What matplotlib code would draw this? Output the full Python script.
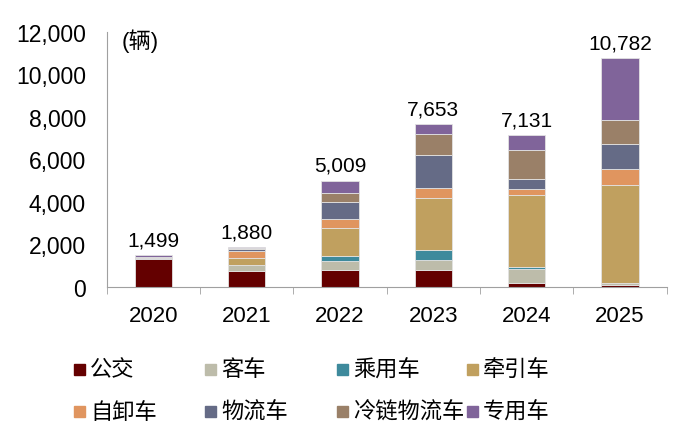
import matplotlib
matplotlib.use("Agg")
import matplotlib.pyplot as plt
import matplotlib.patches as patches
import numpy as np

plt.rcParams['font.family'] = ['Liberation Sans', 'Noto Sans CJK SC']

years = ['2020', '2021', '2022', '2023', '2024', '2025']
series_names = ['公交', '客车', '乘用车', '牵引车', '自卸车', '物流车', '冷链物流车', '专用车']
colors = ['#640000', '#BDBCAA', '#3E8A9C', '#C0A05F', '#E0955F', '#656B86', '#9A8068', '#80649A']

bus = [1300, 770, 790, 818, 173, 110]
coach = [20, 252, 445, 456, 690, 63]
car = [0, 0, 205, 456, 63, 0]
tractor = [0, 346, 1330, 2480, 3385, 4640]
dump = [0, 346, 445, 440, 283, 755]
logistics = [30, 63, 775, 1540, 500, 1175]
cold_chain = [40, 53, 430, 1005, 1331, 1095]
special = [109, 50, 589, 458, 706, 2944]

series = [bus, coach, car, tractor, dump, logistics, cold_chain, special]

fig = plt.figure(figsize=(6.98, 4.39), dpi=100)
ax = fig.add_axes([0.1529, 0.344, 0.8021, 0.581])

x = np.arange(len(years))
bottom = np.zeros(len(years))
for vals, col in zip(series, colors):
    ax.bar(x, vals, 0.4, bottom=bottom, color=col, edgecolor='#e2e2e2', linewidth=0.6)
    bottom += np.array(vals)

for xi, tot in zip(x, bottom):
    ax.annotate(f"{int(tot):,}", (xi, tot), xytext=(0, 4), textcoords='offset points',
                ha='center', va='bottom', fontsize=15)

ax.set_xlim(-0.5, len(years) - 0.5)
ax.set_ylim(0, 12000)
ax.set_yticks(range(0, 12001, 2000))
ax.set_yticklabels([f"{v:,}" for v in range(0, 12001, 2000)], fontsize=16.5)
ax.set_xticks(x)
ax.set_xticklabels(years, fontsize=16)
ax.set_xticks(np.arange(-0.5, len(years)), minor=True)
ax.tick_params(axis='y', length=0, pad=15)
ax.tick_params(axis='x', which='major', length=0, pad=13)
ax.tick_params(axis='x', which='minor', length=5, color='#a0a0a0', direction='out')

for side in ['top', 'right']:
    ax.spines[side].set_visible(False)
for side in ['left', 'bottom']:
    ax.spines[side].set_color('#a0a0a0')

fig.text(122 / 698, 1 - 41 / 439, '(辆)', fontsize=16, va='center', ha='left')

# legend: 2 rows x 4 columns with fixed column spacing
col_x = [74, 205, 337, 467]
row_y = [370, 412.5]
W, H = 698, 439
for i, (name, col) in enumerate(zip(series_names, colors)):
    cx = col_x[i % 4]
    cy = row_y[i // 4]
    fig.patches.append(patches.Rectangle((cx / W, 1 - (cy + 5.5) / H), 11 / W, 11 / H,
                                         transform=fig.transFigure, color=col, figure=fig))
    fig.text((cx + 16) / W, 1 - cy / H, name, fontsize=16, va='center', ha='left',
             weight='medium', family=['Noto Sans CJK SC', 'DejaVu Sans'])

fig.savefig('out.png', dpi=100)
